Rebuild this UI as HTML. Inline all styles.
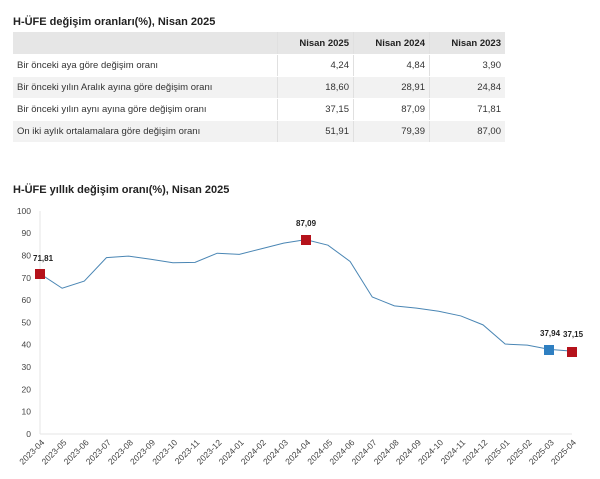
<!DOCTYPE html>
<html><head><meta charset="utf-8"><style>
body{margin:0;width:600px;height:479px;background:#fff;font-family:"Liberation Sans",sans-serif;color:#333;overflow:hidden;position:relative}
.t{position:absolute;left:13px;font-weight:bold;font-size:11px;color:#222}
table{position:absolute;left:13px;top:32px;width:492px;border-collapse:collapse;font-size:9.5px}
td,th{height:21px;padding:0 4px;border-right:1px solid #e0e0e0;border-bottom:1px solid #fff}
th{background:#e6e6e6;text-align:right;font-weight:bold;color:#222;height:22px}
td.n{text-align:right;width:67px}
tr:nth-child(odd) td{background:#f2f2f2}
tr td:last-child,tr th:last-child{border-right:none}
</style></head><body>
<div class="t" style="top:16px">H-ÜFE değişim oranları(%), Nisan 2025</div>
<table>
<tr><th style="width:256px"></th><th>Nisan 2025</th><th>Nisan 2024</th><th>Nisan 2023</th></tr>
<tr><td>Bir önceki aya göre değişim oranı</td><td class="n">4,24</td><td class="n">4,84</td><td class="n">3,90</td></tr>
<tr><td>Bir önceki yılın Aralık ayına göre değişim oranı</td><td class="n">18,60</td><td class="n">28,91</td><td class="n">24,84</td></tr>
<tr><td>Bir önceki yılın aynı ayına göre değişim oranı</td><td class="n">37,15</td><td class="n">87,09</td><td class="n">71,81</td></tr>
<tr><td>On iki aylık ortalamalara göre değişim oranı</td><td class="n">51,91</td><td class="n">79,39</td><td class="n">87,00</td></tr>
</table>
<div class="t" style="top:184px">H-ÜFE yıllık değişim oranı(%), Nisan 2025</div>
<svg width="600" height="479" style="position:absolute;left:0;top:0" font-family="Liberation Sans,sans-serif">
<g font-size="8.5" fill="#444" text-anchor="end" id="y"></g>
<line x1="40" y1="211" x2="40" y2="434" stroke="#e6e6e6"/>
<line x1="40" y1="434" x2="572" y2="434" stroke="#e6e6e6"/>
<polyline id="ln" fill="none" stroke="#4a86b4" stroke-width="1"/>
<g id="xl" font-size="8.5" fill="#444" text-anchor="end"></g>
<rect x="35" y="269" width="10" height="10" fill="#b5121b"/>
<rect x="301" y="235" width="10" height="10" fill="#b5121b"/>
<rect x="544" y="345" width="10" height="10" fill="#2f7fc1"/>
<rect x="567" y="347" width="10" height="10" fill="#b5121b"/>
<g font-size="8" font-weight="bold" fill="#222">
<text x="33" y="261">71,81</text><text x="296" y="226">87,09</text>
<text x="540" y="336">37,94</text><text x="563" y="337">37,15</text></g>
</svg>
<script>
var v=[71.81,65.3,68.5,79,79.7,78.3,76.7,76.9,81,80.5,83,85.5,87.09,84.6,77.3,61.4,57.4,56.4,55,52.9,48.9,40.3,39.8,37.94,37.15];
var ns="http://www.w3.org/2000/svg",p=[],xl=document.getElementById('xl'),yg=document.getElementById('y');
function Y(a){return 434-a*2.232}
for(var i=0;i<=10;i++){var t=document.createElementNS(ns,'text');t.setAttribute('x',31);t.setAttribute('y',Y(i*10)+3);t.textContent=i*10;yg.appendChild(t);}
for(var i=0;i<25;i++){var x=40+i*22.15;p.push(x+','+Y(v[i]));
var m=(3+i)%12+1,yr=2023+Math.floor((3+i)/12);
var t=document.createElementNS(ns,'text');t.setAttribute('transform','translate('+(x+5)+',443) rotate(-45)');t.textContent=yr+'-'+(m<10?'0':'')+m;xl.appendChild(t);}
document.getElementById('ln').setAttribute('points',p.join(' '));
</script>
</body></html>
